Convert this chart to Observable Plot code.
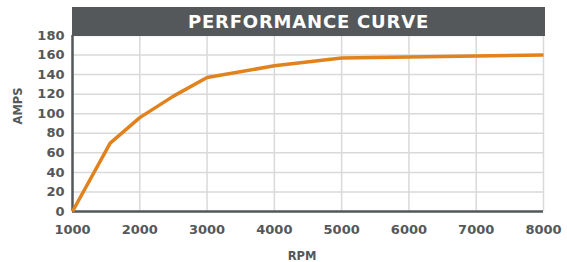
<!DOCTYPE html>
<html><head><meta charset="utf-8">
<script src="https://cdn.jsdelivr.net/npm/d3@7"></script>
<script src="https://cdn.jsdelivr.net/npm/@observablehq/plot@0.6"></script>
<style>
body{margin:0;background:#fff;}
#wrap{position:relative;width:567px;height:262px;}
#title{position:absolute;left:72px;top:7px;width:473px;height:29px;background:#54585a;color:#fff;
font:bold 18px "DejaVu Sans";letter-spacing:0.8px;text-align:center;line-height:30px;}
</style></head>
<body><div id="wrap"><div id="title">PERFORMANCE CURVE</div></div>
<script>
const rpm = [1000, 1560, 2000, 2500, 3000, 4000, 5000, 6000, 7000, 8000];
const amps = [0, 70, 96, 118, 137, 149, 157, 158, 159, 160];
const xTicks = [1000, 2000, 3000, 4000, 5000, 6000, 7000, 8000];
const yTicks = [0, 20, 40, 60, 80, 100, 120, 140, 160, 180];
const data = rpm.map((r, i) => ({rpm: r, amps: amps[i]}));
const axisColor = "#54585a";
const chart = Plot.plot({
  width: 567, height: 262,
  marginLeft: 72, marginRight: 24, marginTop: 35, marginBottom: 51,
  style: {fontFamily: "DejaVu Sans", fontWeight: "bold", fontSize: "13px", color: axisColor, background: "transparent"},
  x: {domain: [1000, 8000], ticks: xTicks, tickFormat: d => String(d), label: null},
  y: {domain: [0, 180], ticks: yTicks, label: null},
  marks: [
    Plot.gridX(xTicks, {stroke: "#d9d9d9", strokeOpacity: 1, strokeWidth: 1.5}),
    Plot.gridY(yTicks, {stroke: "#d9d9d9", strokeOpacity: 1, strokeWidth: 1.5}),
    Plot.axisX(xTicks, {tickSize: 0, tickPadding: 13, tickFormat: d => String(d), fill: axisColor, label: null}),
    Plot.axisY(yTicks, {tickSize: 0, tickPadding: 8, fill: axisColor, label: null}),
    Plot.ruleX([1000], {stroke: axisColor, strokeWidth: 2.5}),
    Plot.ruleY([0], {stroke: axisColor, strokeWidth: 2.5, x1: 1000, x2: 8000}),
    Plot.line(data, {x: "rpm", y: "amps", stroke: "#e0821e", strokeWidth: 3.5, strokeLinejoin: "miter", strokeLinecap: "butt"}),
    Plot.text(["AMPS"], {frameAnchor: "left", dx: -54, dy: 1, rotate: -90, fontSize: 11.5, fill: axisColor, fontWeight: "bold"}),
    Plot.text(["RPM"], {frameAnchor: "bottom", dy: 48, dx: -6, fontSize: 11.5, fill: axisColor, fontWeight: "bold"})
  ]
});
chart.style.position = "absolute";
chart.style.left = "0"; chart.style.top = "0";
const wrap = document.getElementById("wrap");
wrap.insertBefore(chart, wrap.firstChild);
</script>
</body></html>
